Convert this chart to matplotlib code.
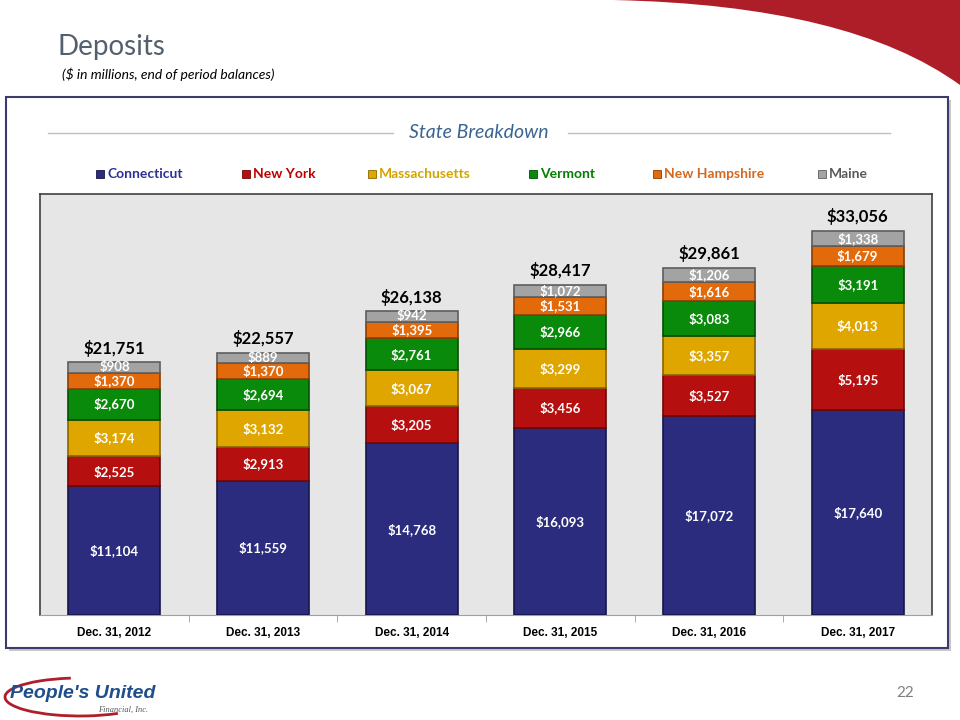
import matplotlib
matplotlib.use('Agg')
import matplotlib.pyplot as plt
from matplotlib.patches import Rectangle, PathPatch, Arc
from matplotlib.path import Path
import numpy as np

# data ($ in millions)
years = ['Dec. 31, 2012', 'Dec. 31, 2013', 'Dec. 31, 2014',
         'Dec. 31, 2015', 'Dec. 31, 2016', 'Dec. 31, 2017']
states = ['Connecticut', 'New York', 'Massachusetts', 'Vermont', 'New Hampshire', 'Maine']
connecticut = [11104, 11559, 14768, 16093, 17072, 17640]
new_york = [2525, 2913, 3205, 3456, 3527, 5195]
massachusetts = [3174, 3132, 3067, 3299, 3357, 4013]
vermont = [2670, 2694, 2761, 2966, 3083, 3191]
new_hampshire = [1370, 1370, 1395, 1531, 1616, 1679]
maine = [908, 889, 942, 1072, 1206, 1338]
totals = [21751, 22557, 26138, 28417, 29861, 33056]

series = [connecticut, new_york, massachusetts, vermont, new_hampshire, maine]
bar_colors = ['#2B2C7E', '#B5100F', '#E0A600', '#0A8A0A', '#E36A0A', '#A3A3A3']
edge_colors = ['#15164A', '#6E0808', '#8A6600', '#054F05', '#8A3E04', '#5E5E5E']
text_colors = ['#2E3192', '#C00000', '#D4A300', '#008000', '#D2691E', '#595959']

plt.rcParams['font.family'] = ['Lato', 'DejaVu Sans']

fig = plt.figure(figsize=(9.6, 7.2), dpi=100)
W, H = 960, 720

# red swoosh top right
verts = [(613 / W, 1), (850 / W, 1 - 5 / H), (960 / W, 1 - 85 / H), (1, 1), (613 / W, 1)]
codes = [Path.MOVETO, Path.CURVE3, Path.CURVE3, Path.LINETO, Path.CLOSEPOLY]
fig.patches.append(PathPatch(Path(verts, codes), transform=fig.transFigure,
                             facecolor='#AD1E28', edgecolor='none', zorder=-2))

# title
fig.text(58 / W, 1 - 47 / H, 'Deposits', fontsize=20, color='#55606E', va='center')
fig.text(62 / W, 1 - 74 / H, '($ in millions, end of period balances)', fontsize=10,
         style='italic', color='black', va='center')

# panel with shadow
fig.patches.append(Rectangle((9 / W, 1 - 651 / H), 942 / W, 551 / H, transform=fig.transFigure,
                             facecolor='#C8C8C8', edgecolor='none', zorder=-2))
fig.patches.append(Rectangle((6 / W, 1 - 648 / H), 942 / W, 551 / H, transform=fig.transFigure,
                             facecolor='white', edgecolor='#3C3C6A', linewidth=1.5, zorder=-1))

# section header
fig.text(479 / W, 1 - 133 / H, 'State Breakdown', fontsize=14, style='italic',
         color='#3A6491', ha='center', va='center')
fig.lines.append(plt.Line2D([48 / W, 393 / W], [1 - 133 / H] * 2, transform=fig.transFigure,
                            color='#BFBFBF', linewidth=1))
fig.lines.append(plt.Line2D([568 / W, 890 / W], [1 - 133 / H] * 2, transform=fig.transFigure,
                            color='#BFBFBF', linewidth=1))

# legend, placed by hand
legend_x = [100, 246, 372, 533, 657, 822]
for lx, name, fc, ec, tc in zip(legend_x, states, bar_colors, edge_colors, text_colors):
    fig.patches.append(Rectangle(((lx - 4) / W, 1 - 178 / H), 8 / W, 8 / H, transform=fig.transFigure,
                                 facecolor=fc, edgecolor=ec, linewidth=0.6))
    fig.text((lx + 7) / W, 1 - 174 / H, name, fontsize=10, fontweight='bold', color=tc, va='center')

# chart
ax = fig.add_axes([40 / W, 1 - 615 / H, 892 / W, 421 / H])
ax.set_zorder(2)
ax.set_facecolor('#E6E6E6')
x = np.arange(len(years))
bottom = np.zeros(len(years))
for vals, fc, ec in zip(series, bar_colors, edge_colors):
    ax.bar(x, vals, 0.62, bottom=bottom, color=fc, edgecolor=ec, linewidth=1.2, zorder=3)
    for xi, b, v in zip(x, bottom, vals):
        ax.text(xi, b + v / 2, f'${v:,}', ha='center', va='center', color='white',
                fontsize=9.5, fontweight='bold', zorder=4)
    bottom += np.array(vals)

for xi, t in zip(x, totals):
    ax.text(xi, t + 450, f'${t:,}', ha='center', va='bottom', color='black',
            fontsize=12, fontweight='bold', zorder=4)

ax.set_xlim(-0.5, len(years) - 0.5)
ax.set_ylim(0, 36200)
ax.set_yticks([])
ax.set_xticks(x)
ax.set_xticklabels(years, fontsize=8.5, fontweight='bold', family=['Liberation Sans', 'DejaVu Sans'])
ax.tick_params(axis='x', which='major', length=0, pad=9)
ax.set_xticks(np.arange(0.5, len(years) - 1, 1), minor=True)
ax.tick_params(axis='x', which='minor', length=5, color='#A0A0A0')
for side in ['top', 'left', 'right']:
    ax.spines[side].set_color('#404040')
    ax.spines[side].set_linewidth(1.2)
ax.spines['bottom'].set_color('#A0A0A0')

# page number and logo
fig.text(905 / W, 1 - 693 / H, '22', fontsize=11, color='#7F7F7F', ha='center', va='center')
fig.patches.append(Arc((80 / W, 1 - 697 / H), 150 / W, 38 / H, theta1=110, theta2=330,
                       transform=fig.transFigure, edgecolor='#B01E2A', linewidth=2))
fig.text(10 / W, 1 - 693 / H, "People's United", fontsize=14, fontweight='bold', style='italic',
         color='#1F4E8C', va='center', family=['Liberation Sans Narrow', 'Liberation Sans', 'DejaVu Sans'])
fig.text(98 / W, 1 - 710 / H, 'Financial, Inc.', fontsize=6, style='italic',
         color='#555555', va='center', family=['Liberation Serif', 'DejaVu Serif'])

fig.savefig('out.png', dpi=100)
